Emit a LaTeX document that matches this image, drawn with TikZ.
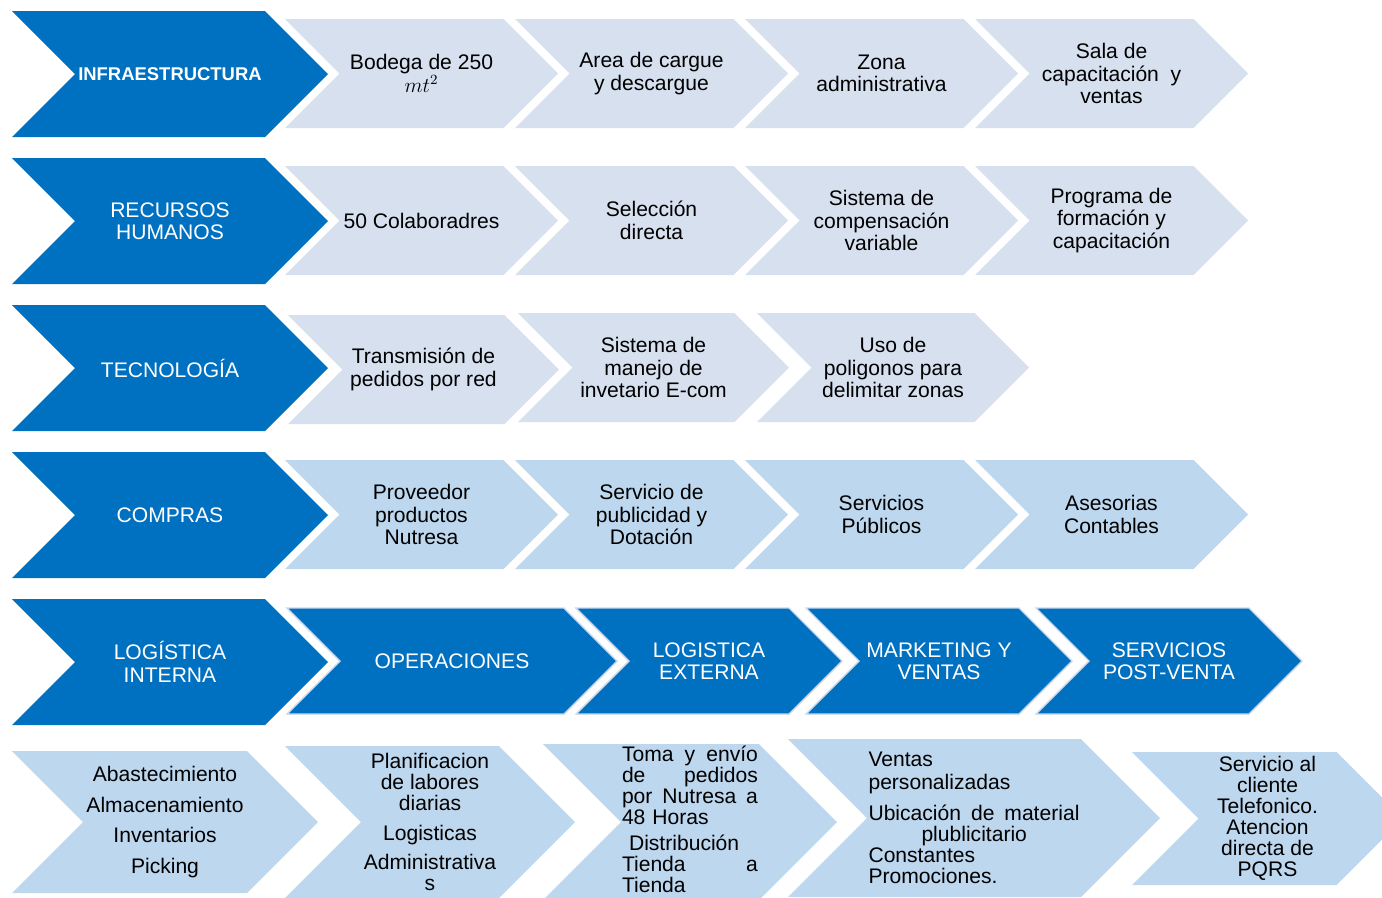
\documentclass[tikz,border=0pt]{standalone}
\usepackage{fontspec}
\setmainfont{Liberation Sans}
\usepackage{tikz}

\definecolor{vblue}{HTML}{0070C0}
\definecolor{vpale}{HTML}{D6E0EF}
\definecolor{vsoft}{HTML}{BDD7EE}
\definecolor{vedge}{HTML}{C9D8EC}

% chevron: fill style, text style, name, left, tip, top, bottom, text
\newcommand{\chev}[8]{%
  \path[#1] (#4,#6) -- ({#5-(#7-#6)/2},#6) -- (#5,{(#6+#7)/2})
     -- ({#5-(#7-#6)/2},#7) -- (#4,#7) -- ({#4+(#7-#6)/2},{(#6+#7)/2}) -- cycle;
  \node[#2] (#3) at ({(#4+#5)/2},{(#6+#7)/2}) {#8};}

\begin{document}
\begin{tikzpicture}[x=0.02cm, y=-0.02cm,
   head/.style={fill=vblue}, pale/.style={fill=vpale}, soft/.style={fill=vsoft},
   flow/.style={fill=vblue, draw=vedge, line width=0.8pt},
   txt/.style={align=center, inner sep=0pt, font=\fontsize{12}{12.8}\selectfont},
   wtxt/.style={txt, text=white}, btxt/.style={txt, text=black},
   ltxt/.style={btxt, font=\fontsize{12}{12}\selectfont}]
   \useasboundingbox (0,0) rectangle (1382,897);
   \clip (0,0) rectangle (1382,897);

   \chev{head}{wtxt, font=\fontsize{10.5}{12}\selectfont\bfseries}{infra}{12}{328}{11}{137}{INFRAESTRUCTURA}
   \chev{pale}{btxt}{bodega}{285}{558}{19}{128}{Bodega de 250\\$mt^{2}$}
   \chev{pale}{btxt}{cargue}{515}{788}{19}{128}{Area de cargue\\y descargue}
   \chev{pale}{btxt}{zona}{745}{1018}{19}{128}{Zona\\administrativa}
   \chev{pale}{btxt}{sala}{975}{1248}{19}{128}{Sala de\\capacitación\ \ y\\ventas}

   \chev{head}{wtxt}{rrhh}{12}{328}{158}{284}{RECURSOS\\HUMANOS}
   \chev{pale}{btxt}{colab}{285}{558}{166}{275}{50 Colaboradres}
   \chev{pale}{btxt}{seleccion}{515}{788}{166}{275}{Selección\\directa}
   \chev{pale}{btxt}{compensa}{745}{1018}{166}{275}{Sistema de\\compensación\\variable}
   \chev{pale}{btxt}{formacion}{975}{1248}{166}{275}{Programa de\\formación y\\capacitación}

   \chev{head}{wtxt}{tecno}{12}{328}{305}{431}{TECNOLOGÍA}
   \chev{pale}{btxt}{transmision}{288}{559}{315}{424}{Transmisión de\\pedidos por red}
   \chev{pale}{btxt}{ecom}{518}{789}{313}{422}{Sistema de\\manejo de\\invetario E-com}
   \chev{pale}{btxt}{poligonos}{757}{1029}{313}{422}{Uso de\\poligonos para\\delimitar zonas}

   \chev{head}{wtxt}{compras}{12}{328}{452}{578}{COMPRAS}
   \chev{soft}{btxt}{nutresa}{285}{558}{460}{569}{Proveedor\\productos\\Nutresa}
   \chev{soft}{btxt}{publicidad}{515}{788}{460}{569}{Servicio de\\publicidad y\\Dotación}
   \chev{soft}{btxt}{publicos}{745}{1018}{460}{569}{Servicios\\Públicos}
   \chev{soft}{btxt}{contables}{975}{1248}{460}{569}{Asesorias\\Contables}

   \chev{head}{wtxt}{interna}{12}{328}{599}{725}{LOGÍSTICA\\INTERNA}
   \chev{flow}{wtxt}{operaciones}{287}{617}{608}{714}{OPERACIONES}
   \chev{flow}{wtxt}{externa}{576}{842}{608}{714}{LOGISTICA\\EXTERNA}
   \chev{flow}{wtxt}{marketing}{806}{1072}{608}{714}{MARKETING Y\\VENTAS}
   \chev{flow}{wtxt}{postventa}{1036}{1302}{608}{714}{SERVICIOS\\POST-VENTA}

   \chev{soft}{ltxt}{abast}{12}{318}{751}{893}{Abastecimiento\\[5.4pt]Almacenamiento\\[5.4pt]Inventarios\\[5.4pt]Picking}
   \chev{soft}{ltxt}{labores}{285}{575}{746}{898}{Planificacion\\de labores\\diarias\\[4.8pt]Logisticas\\[4.8pt]Administrativa\\s}
   \chev{soft}{ltxt, align=left, text width=2.72cm, yshift=1.5pt}{pedidos}{543}{837}{744}{900}{Toma\hfill y\hfill envío\\de\hfill pedidos\\por\hfill Nutresa\hfill a\\48 Horas\\[3pt]\ Distribución\\Tienda\hfill a\\Tienda}
   \chev{soft}{ltxt, align=left, text width=4.22cm}{ventas}{788}{1160}{739}{897}{Ventas\\[1pt]personalizadas\\[5.7pt]Ubicación\hfill de\hfill material\\\hspace*{1.06cm}plublicitario\\Constantes\\Promociones.}
   \chev{soft}{ltxt}{cliente}{1132}{1403}{752}{885}{Servicio al\\cliente\\Telefonico.\\Atencion\\directa de\\PQRS}
\end{tikzpicture}
\end{document}
